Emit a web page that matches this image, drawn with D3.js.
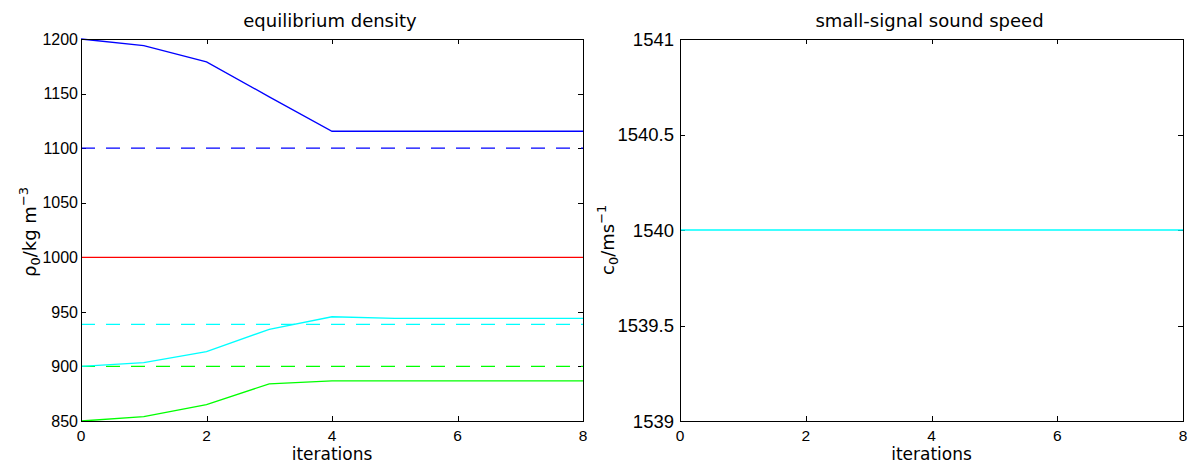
<!DOCTYPE html>
<html>
<head>
<meta charset="utf-8">
<script src="https://cdn.jsdelivr.net/npm/d3@7"></script>
<style>
  html, body { margin: 0; padding: 0; background: #fff; }
  svg { display: block; }
  .tick-y-left { font-family: "Liberation Sans", Arial, sans-serif; font-size: 16px; }
  .tick-y-right { font-family: "Liberation Sans", Arial, sans-serif; font-size: 18.5px; }
  .tick-x { font-family: "Liberation Sans", Arial, sans-serif; font-size: 15.5px; }
  .label { font-family: "DejaVu Sans", sans-serif; font-size: 18px; }
  .xlabel { font-family: "DejaVu Sans", sans-serif; font-size: 17px; }
</style>
</head>
<body>
<svg id="chart" width="1196" height="464"></svg>
<script>
// iteration index shared by both panels
const iterations = [0, 1, 2, 3, 4, 5, 6, 7, 8];

// equilibrium density per medium (kg m^-3)
const densityHigh = [1200, 1194, 1179, 1147, 1115.5, 1115.5, 1115.5, 1115.5, 1115.5];
const densityMid  = [900, 903.5, 913.5, 934, 945.5, 944, 944, 944, 944];
const densityLow  = [850, 854, 865, 884, 886.7, 886.7, 886.7, 886.7, 886.7];
const densityRef  = [1000, 1000, 1000, 1000, 1000, 1000, 1000, 1000, 1000];

// target densities drawn as dashed references
const targetHigh = 1100;
const targetMid  = 938.6;
const targetLow  = 900;

// small-signal sound speed (m/s)
const soundSpeed = [1540, 1540, 1540, 1540, 1540, 1540, 1540, 1540, 1540];

// tick values / labels
const xTicks = [0, 2, 4, 6, 8];
const densityTicks = [850, 900, 950, 1000, 1050, 1100, 1150, 1200];
const speedTicks = [1539, 1539.5, 1540, 1540.5, 1541];
const speedTickLabels = ["1539", "1539.5", "1540", "1540.5", "1541"];

const svg = d3.select("#chart");

const plotTop = 39, plotBottom = 421;
const panels = [
  { left: 81, right: 583, domain: [850, 1200], yTicks: densityTicks,
    yLabels: densityTicks.map(String), tickClass: "tick-y-left", tickGap: 3,
    title: "equilibrium density" },
  { left: 680, right: 1183, domain: [1539, 1541], yTicks: speedTicks,
    yLabels: speedTickLabels, tickClass: "tick-y-right", tickGap: 6,
    title: "small-signal sound speed" }
];

function drawAxes(p) {
  const x = d3.scaleLinear().domain([0, 8]).range([p.left, p.right]);
  const y = d3.scaleLinear().domain(p.domain).range([plotBottom, plotTop]);
  const g = svg.append("g");
  const tickLen = 5;

  // inward ticks on all four sides
  const t = g.append("g").attr("stroke", "#000").attr("stroke-width", 1);
  xTicks.forEach(v => {
    const px = Math.round(x(v)) + 0.5;
    t.append("line").attr("x1", px).attr("x2", px).attr("y1", plotBottom).attr("y2", plotBottom - tickLen);
    t.append("line").attr("x1", px).attr("x2", px).attr("y1", plotTop).attr("y2", plotTop + tickLen);
  });
  p.yTicks.forEach(v => {
    const py = Math.round(y(v)) + 0.5;
    t.append("line").attr("x1", p.left).attr("x2", p.left + tickLen).attr("y1", py).attr("y2", py);
    t.append("line").attr("x1", p.right).attr("x2", p.right - tickLen).attr("y1", py).attr("y2", py);
  });

  // tick labels
  g.append("g").selectAll("text").data(xTicks).join("text")
    .attr("class", "tick-x")
    .attr("x", d => x(d)).attr("y", 441)
    .attr("text-anchor", "middle")
    .text(d => d);
  g.append("g").selectAll("text").data(p.yTicks).join("text")
    .attr("class", p.tickClass)
    .attr("x", p.left - p.tickGap).attr("y", d => y(d))
    .attr("dy", "0.36em")
    .attr("text-anchor", "end")
    .text((d, i) => p.yLabels[i]);

  // titles and x label
  g.append("text").attr("class", "label")
    .attr("x", (p.left + p.right) / 2 - 2).attr("y", 27)
    .attr("text-anchor", "middle").text(p.title);
  g.append("text").attr("class", "xlabel")
    .attr("x", (p.left + p.right) / 2).attr("y", 460)
    .attr("text-anchor", "middle").text("iterations");

  return { x, y, g };
}

function drawBox(p) {
  svg.append("rect")
    .attr("x", p.left + 0.5).attr("y", plotTop + 0.5)
    .attr("width", p.right - p.left).attr("height", plotBottom - plotTop)
    .attr("fill", "none").attr("stroke", "#000").attr("stroke-width", 1);
}

// ---- left panel: equilibrium density ----
const L = drawAxes(panels[0]);
const lineL = d3.line().x((d, i) => L.x(iterations[i])).y(d => L.y(d));

const dashed = [
  { v: targetHigh, c: "#0000ff" },
  { v: targetMid, c: "#00ffff" },
  { v: targetLow, c: "#00ff00" }
];
dashed.forEach(d => {
  L.g.append("path")
    .attr("d", lineL(iterations.map(() => d.v)))
    .attr("fill", "none").attr("stroke", d.c).attr("stroke-width", 1.3)
    .attr("stroke-dasharray", "14,11");
});

[
  { data: densityHigh, c: "#0000ff" },
  { data: densityRef, c: "#ff0000" },
  { data: densityMid, c: "#00ffff" },
  { data: densityLow, c: "#00ff00" }
].forEach(s => {
  L.g.append("path")
    .attr("d", lineL(s.data))
    .attr("fill", "none").attr("stroke", s.c).attr("stroke-width", 1.3);
});
drawBox(panels[0]);

// y label: rho_0 / kg m^-3
const yl = svg.append("text").attr("class", "label")
  .attr("transform", "translate(36,277) rotate(-90)");
yl.append("tspan").text("\u03C1");
yl.append("tspan").attr("dy", 4).attr("font-size", 13).text("0");
yl.append("tspan").attr("dy", -4).text("/kg m");
yl.append("tspan").attr("dy", -8).attr("font-size", 13).text("\u22123");

// ---- right panel: small-signal sound speed ----
const R = drawAxes(panels[1]);
const lineR = d3.line().x((d, i) => R.x(iterations[i])).y(d => R.y(d));
R.g.append("path")
  .attr("d", lineR(soundSpeed))
  .attr("fill", "none").attr("stroke", "#00ffff").attr("stroke-width", 1.3);
drawBox(panels[1]);

const yr = svg.append("text").attr("class", "label")
  .attr("transform", "translate(614,275) rotate(-90)");
yr.append("tspan").text("c");
yr.append("tspan").attr("dy", 4).attr("font-size", 13).text("0");
yr.append("tspan").attr("dy", -4).text("/ms");
yr.append("tspan").attr("dy", -8).attr("font-size", 13).text("\u22121");
</script>
</body>
</html>
